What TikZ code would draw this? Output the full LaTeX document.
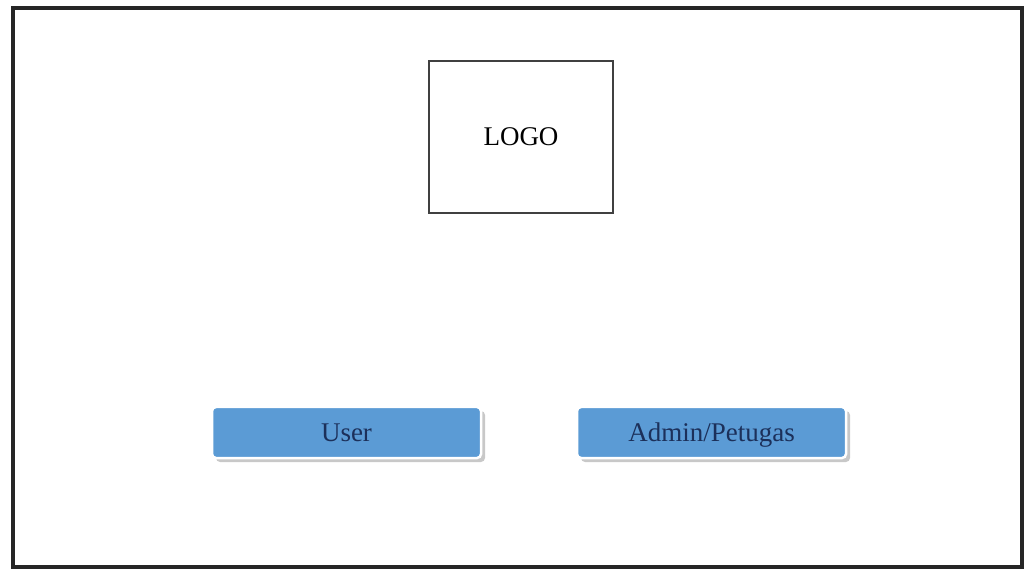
\documentclass[tikz,border=0pt]{standalone}
\usepackage{fontspec}
\setmainfont{Liberation Serif}
\usetikzlibrary{shadows}
\definecolor{btnblue}{RGB}{91,155,213}
\definecolor{btntext}{RGB}{28,48,90}
\tikzset{
  logobox/.style={draw=black!75, line width=1.2pt, minimum width=184pt, minimum height=152pt, inner sep=0pt},
  loginbtn/.style={fill=btnblue, draw=white, line width=2.5pt,
    rounded corners=4pt, minimum width=269pt, minimum height=51pt, inner sep=0pt,
    text=btntext, text height=20pt, text depth=2pt,
    drop shadow={shadow xshift=4pt, shadow yshift=-4pt, fill=black!30, opacity=.7}},
}
\begin{document}
\begin{tikzpicture}[x=1pt,y=1pt,font=\fontsize{27}{30}\selectfont]
			% page size
			\useasboundingbox (0,0) rectangle (1026,571);
			\fill[white] (0,0) rectangle (1026,571);
			% outer frame
			\draw[line width=4pt, black!85] (13,4) rectangle (1022,563);
			% logo placeholder
			\node[logobox] (logo) at (521,434) {LOGO};
			% login buttons
			\node[loginbtn] (user) at (346.5,138.5) {User};
			\node[loginbtn] (admin) at (711.5,138.5) {Admin/Petugas};
		\end{tikzpicture}
\end{document}
